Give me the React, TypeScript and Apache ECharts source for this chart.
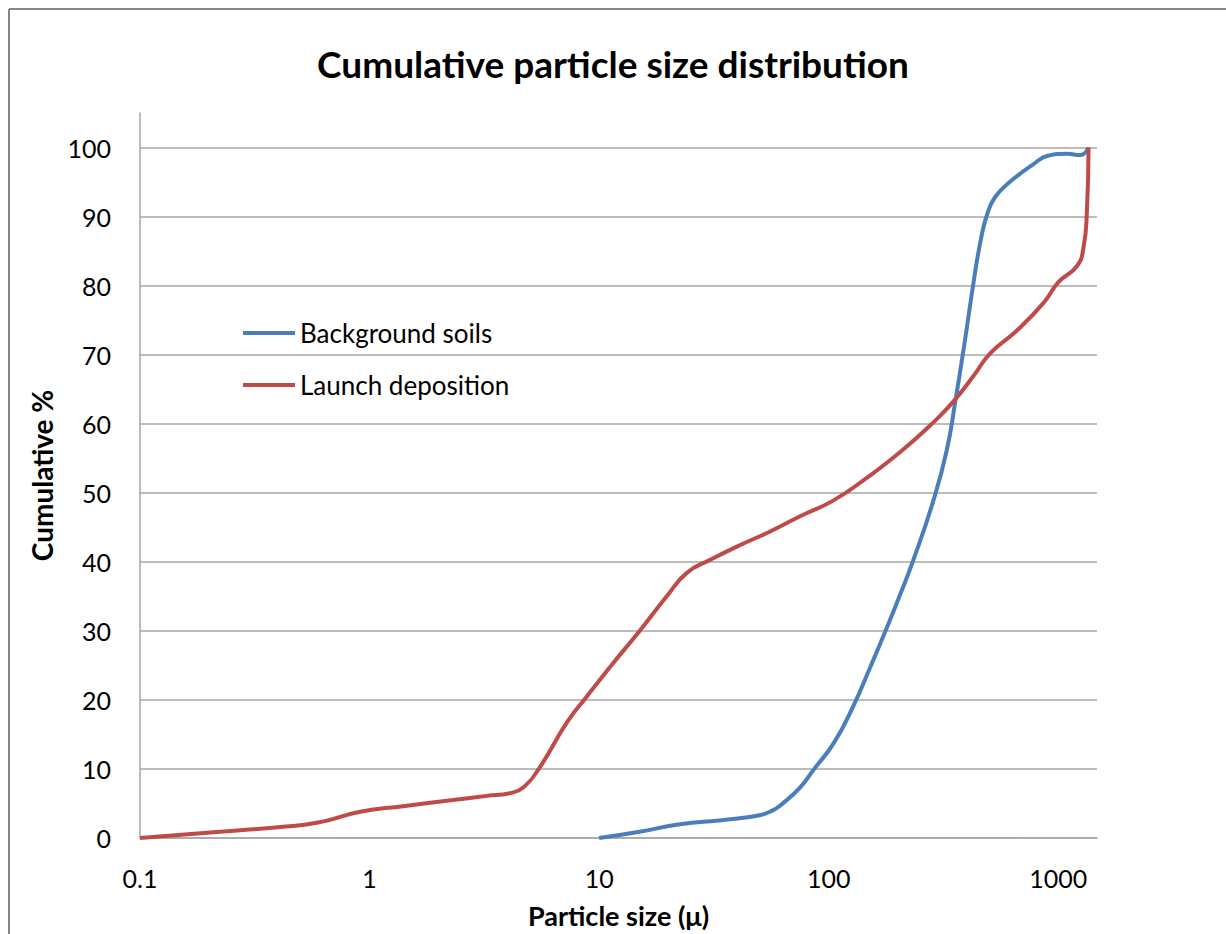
import React, { useEffect, useRef } from "react";
import * as echarts from "echarts";

const chartTitle = "Cumulative particle size distribution";
const xAxisName = "Particle size (μ)";
const yAxisName = "Cumulative %";
const seriesNames = ["Background soils", "Launch deposition"];
const seriesColors = ["#4a7ebb", "#be4b48"];

const xMin = 0.1;
const xMax = 1475;
const yMin = 0;
const yMax = 105;
const yInterval = 10;

// Background soils
const backgroundSize = [10, 15, 22.5, 35, 50, 57, 62, 75, 86, 105, 128, 152, 179, 205, 234, 286, 327, 356, 392, 430, 462, 490, 530, 620, 780, 900, 1089, 1247, 1353];
const backgroundPct = [0, 0.9, 2.0, 2.6, 3.3, 4.0, 4.8, 7.3, 9.9, 13.7, 19.1, 24.8, 30.4, 35.3, 40.3, 48.9, 56.2, 63.2, 72.0, 81.0, 87.0, 90.3, 92.8, 95.1, 97.6, 98.8, 99.1, 98.9, 100];

// Launch deposition
const launchSize = [0.1, 0.223, 0.407, 0.589, 0.91, 1.4, 2.31, 3.24, 4.09, 4.67, 5.53, 7.23, 8.84, 11.5, 15.1, 19.7, 24.1, 30.5, 39.8, 55.6, 75.1, 105, 147, 205, 286, 349, 427, 505, 661, 863, 1002, 1205, 1288, 1333, 1355];
const launchPct = [0, 0.9, 1.6, 2.2, 3.8, 4.6, 5.5, 6.1, 6.5, 7.3, 10.3, 16.7, 20.5, 25.3, 30.1, 35.0, 38.4, 40.3, 42.2, 44.4, 46.6, 48.9, 52.2, 55.9, 60.2, 63.2, 66.9, 70.2, 73.5, 77.5, 80.5, 82.8, 85.5, 90.8, 100];

const zip = (xs: number[], ys: number[]) => xs.map((x, i) => [x, ys[i]]);

const FONT = "Lato";

export default function App() {
  const ref = useRef<HTMLDivElement>(null);
  useEffect(() => {
    if (!ref.current) return;
    const chart = echarts.init(ref.current, undefined, { renderer: "svg" });
    const gridColor = "#a6a6a6";
    chart.setOption({
      animation: false,
      backgroundColor: "#ffffff",
      title: {
        text: chartTitle,
        left: "center",
        top: 40,
        textStyle: { fontFamily: FONT, fontWeight: "bold", fontSize: 37, color: "#000" },
      },
      graphic: [
        { type: "line", shape: { x1: 9, y1: 9, x2: 9, y2: 934 }, style: { stroke: "#868686", lineWidth: 2 } },
        { type: "line", shape: { x1: 9, y1: 9, x2: 1226, y2: 9 }, style: { stroke: "#868686", lineWidth: 2 } },
      ],
      legend: {
        orient: "vertical",
        left: 243,
        top: 318,
        padding: 0,
        icon: "rect",
        itemWidth: 52,
        itemHeight: 4,
        itemGap: 22,
        data: seriesNames,
        textStyle: { fontFamily: FONT, fontSize: 26, color: "#000", lineHeight: 30 },
      },
      grid: { left: 140, right: 129, top: 113, bottom: 96 },
      xAxis: {
        type: "log",
        logBase: 10,
        min: xMin,
        max: xMax,
        name: xAxisName,
        nameLocation: "middle",
        nameGap: 64,
        nameTextStyle: { fontFamily: FONT, fontWeight: "bold", fontSize: 27, color: "#000" },
        axisLine: { show: true, lineStyle: { color: gridColor, width: 1.5 } },
        axisTick: { show: false },
        splitLine: { show: false },
        minorTick: { show: false },
        axisLabel: {
          fontFamily: FONT,
          fontSize: 25,
          color: "#000",
          margin: 27,
          showMaxLabel: false,
          formatter: (v: number) => String(+Number(v).toPrecision(6)),
        },
      },
      yAxis: {
        type: "value",
        min: yMin,
        max: yMax,
        interval: yInterval,
        name: yAxisName,
        nameLocation: "middle",
        nameGap: 84,
        nameTextStyle: { fontFamily: FONT, fontWeight: "bold", fontSize: 28, color: "#000" },
        axisLine: { show: true, onZero: false, lineStyle: { color: gridColor, width: 1.5 } },
        axisTick: { show: false },
        splitLine: { show: true, showMaxLine: false, lineStyle: { color: gridColor, width: 1.5 } },
        axisLabel: {
          fontFamily: FONT,
          fontSize: 25,
          color: "#000",
          margin: 29,
          showMaxLabel: false,
        },
      },
      series: [
        {
          name: seriesNames[0],
          type: "line",
          data: zip(backgroundSize, backgroundPct),
          smooth: 0.5,
          showSymbol: false,
          symbol: "none",
          lineStyle: { color: seriesColors[0], width: 4 },
          itemStyle: { color: seriesColors[0] },
        },
        {
          name: seriesNames[1],
          type: "line",
          data: zip(launchSize, launchPct),
          smooth: 0.5,
          showSymbol: false,
          symbol: "none",
          lineStyle: { color: seriesColors[1], width: 4 },
          itemStyle: { color: seriesColors[1] },
        },
      ],
    });
    return () => chart.dispose();
  }, []);
  return (
    <div
      ref={ref}
      style={{ position: "fixed", left: 0, top: 0, width: 1226, height: 934 }}
    />
  );
}
